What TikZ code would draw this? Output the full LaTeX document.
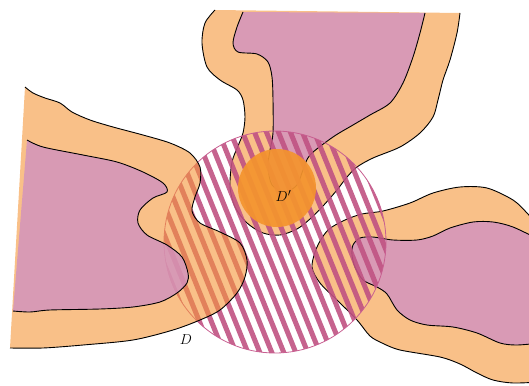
\documentclass[tikz,border=0pt]{standalone}
\definecolor{lorange}{RGB}{249,192,136}
\definecolor{lpink}{RGB}{217,154,181}
\definecolor{stripec}{RGB}{192,82,130}
\definecolor{dorange}{RGB}{245,150,57}
\definecolor{tpink}{RGB}{209,145,192}
\definecolor{dprime}{RGB}{244,148,46}
\definecolor{rimc}{RGB}{200,95,145}
\tikzset{
  outline/.style={draw=black, line width=0.9pt},
  stripeline/.style={draw=stripec, line width=5pt, opacity=0.9},
  lbl/.style={font=\fontsize{15}{18}\selectfont, inner sep=0pt},
}
\begin{document}
\begin{tikzpicture}[x=1pt,y=-1pt]
\useasboundingbox (0,0) rectangle (529,385);
\clip (0,0) rectangle (529,385);
% ---------- top lobe ----------
\fill[lorange] plot[smooth] coordinates {(215,10) (205,23) (202,43) (207,67) (220,80) (237,90) (243,100) (245,117) (243,133) (238,146) (232,162) (230,187) (235,207) (247,223) (263,233) (280,235) (297,229) (310,219) (323,206) (337,190) (347,177) (357,167) (373,158) (400,147) (420,133) (433,117) (438,100) (443,80) (450,60) (457,33) (460,13)} -- cycle;
\fill[lpink] plot[smooth] coordinates {(243,12) (237,27) (233,43) (238,52) (257,54) (268,62) (272,77) (273,100) (273,133) (270,150) (268,167) (272,185) (285,192) (297,185) (303,170) (310,155) (333,137) (353,125) (370,115) (390,103) (403,83) (413,57) (420,33) (425,13)} -- cycle;
\draw[outline] plot[smooth] coordinates {(215,10) (205,23) (202,43) (207,67) (220,80) (237,90) (243,100) (245,117) (243,133) (238,146) (232,162) (230,187) (235,207) (247,223) (263,233) (280,235) (297,229) (310,219) (323,206) (337,190) (347,177) (357,167) (373,158) (400,147) (420,133) (433,117) (438,100) (443,80) (450,60) (457,33) (460,13)};
\draw[outline] plot[smooth] coordinates {(243,12) (237,27) (233,43) (238,52) (257,54) (268,62) (272,77) (273,100) (273,133) (270,150) (268,167) (272,185) (285,192) (297,185) (303,170) (310,155) (333,137) (353,125) (370,115) (390,103) (403,83) (413,57) (420,33) (425,13)};
% ---------- right lobe ----------
\fill[lorange] plot[smooth] coordinates {(540,228) (527,213) (513,200) (487,188) (460,187) (433,193) (410,203) (383,211) (362,214) (345,220) (328,230) (317,247) (312,267) (320,283) (337,300) (357,320) (370,336) (382,343) (400,350) (440,357) (460,364) (477,373) (493,380) (513,383) (540,382)} -- cycle;
\fill[lpink] plot[smooth] coordinates {(540,240) (513,227) (493,222) (473,222) (450,228) (433,236) (417,240) (393,240) (373,237) (360,238) (353,245) (352,255) (355,267) (363,280) (377,287) (387,294) (397,310) (410,320) (427,325) (453,327) (477,333) (500,343) (517,345) (540,343)} -- cycle;
\draw[outline] plot[smooth] coordinates {(540,228) (527,213) (513,200) (487,188) (460,187) (433,193) (410,203) (383,211) (362,214) (345,220) (328,230) (317,247) (312,267) (320,283) (337,300) (357,320) (370,336) (382,343) (400,350) (440,357) (460,364) (477,373) (493,380) (513,383) (540,382)};
\draw[outline] plot[smooth] coordinates {(540,240) (513,227) (493,222) (473,222) (450,228) (433,236) (417,240) (393,240) (373,237) (360,238) (353,245) (352,255) (355,267) (363,280) (377,287) (387,294) (397,310) (410,320) (427,325) (453,327) (477,333) (500,343) (517,345) (540,343)};
% ---------- hatched disc D ----------
\coordinate (dc) at (275,242);
\begin{scope}
  \clip (dc) circle (111pt);
  \foreach \i in {-11,...,11}{
    \draw[stripeline] ({226.25+\i*10.29},{121.5-\i*4.16}) -- ++(97.5,241);
  }
\end{scope}
\draw[rimc, line width=0.8pt] (dc) circle (111pt);
% ---------- left lobe (translucent, on top) ----------
\fill[dorange, fill opacity=0.6] plot[smooth] coordinates {(25,87) (33,93) (45,98) (60,103) (72,112) (90,120) (113,127) (143,135) (170,143) (190,153) (200,167) (200,183) (195,197) (192,211) (200,223) (220,232) (240,243) (247,260) (245,277) (237,293) (220,310) (200,320) (173,330) (133,340) (83,345) (43,348) (10,348)} -- cycle;
\fill[tpink, fill opacity=0.8] plot[smooth] coordinates {(27,140) (43,147) (83,155) (117,162) (143,172) (163,183) (167,192) (153,198) (140,210) (138,223) (147,235) (167,245) (182,257) (188,273) (187,283) (177,293) (160,302) (133,307) (100,309) (50,310) (30,312) (13,311)} -- cycle;
\draw[outline] plot[smooth] coordinates {(25,87) (33,93) (45,98) (60,103) (72,112) (90,120) (113,127) (143,135) (170,143) (190,153) (200,167) (200,183) (195,197) (192,211) (200,223) (220,232) (240,243) (247,260) (245,277) (237,293) (220,310) (200,320) (173,330) (133,340) (83,345) (43,348) (10,348)};
\draw[outline] plot[smooth] coordinates {(27,140) (43,147) (83,155) (117,162) (143,172) (163,183) (167,192) (153,198) (140,210) (138,223) (147,235) (167,245) (182,257) (188,273) (187,283) (177,293) (160,302) (133,307) (100,309) (50,310) (30,312) (13,311)};
% ---------- disc D' ----------
\fill[dprime, fill opacity=0.93] (277,188) circle (39pt);
\node[lbl] (dprimelabel) at (283.5,196) {$D'$};
\node[lbl] (dlabel) at (186,339.5) {$D$};
\end{tikzpicture}
\end{document}
